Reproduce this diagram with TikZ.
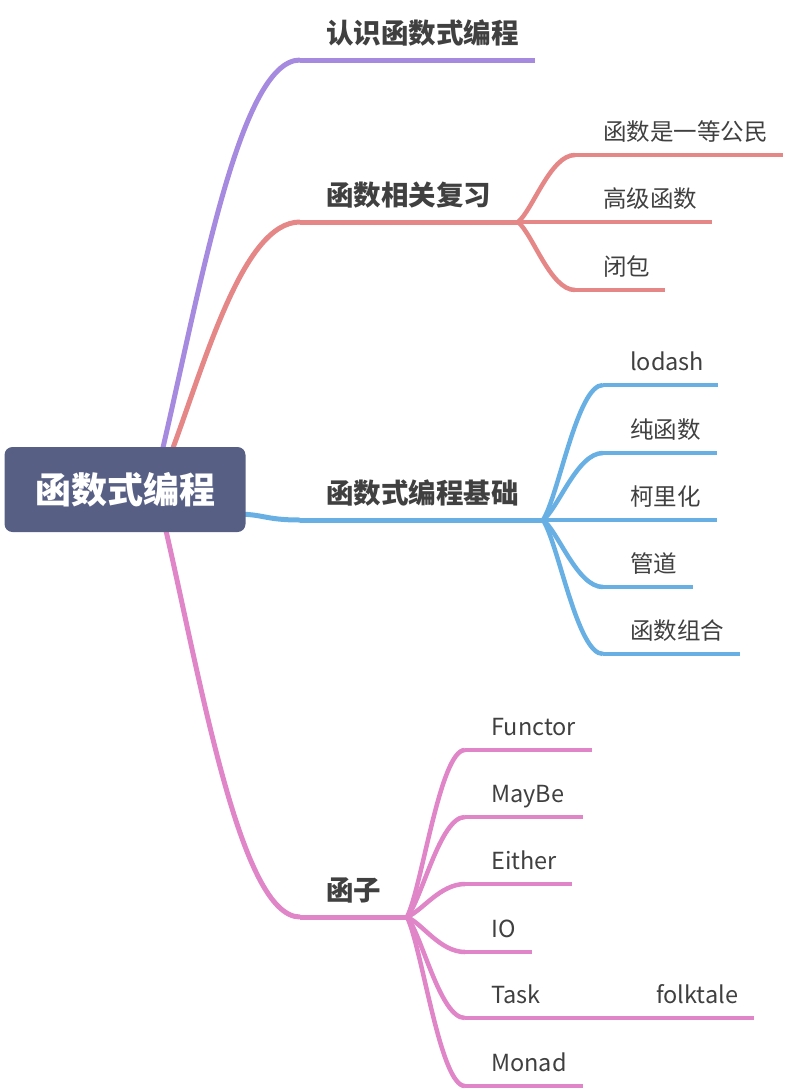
\documentclass[tikz,border=0pt]{standalone}
\usepackage{fontspec}
\setmainfont{Noto Sans CJK SC}
\usetikzlibrary{calc,backgrounds}
\definecolor{cP}{HTML}{A58AE0}
\definecolor{cR}{HTML}{E58687}
\definecolor{cB}{HTML}{68B0E4}
\definecolor{cK}{HTML}{DF85C8}
\definecolor{rootfill}{HTML}{585F85}
\definecolor{txt}{HTML}{404040}
\tikzset{
  xcurve/.style n args={3}{to path={let \p1=(\tikztostart), \p2=(\tikztotarget) in
     .. controls ({\x1+#1*(\x2-\x1)},{\y1+#2*(\y2-\y1)}) and ({\x1+#3*(\x2-\x1)},\y2) .. (\tikztotarget)}},
  mainbr/.style={line width=5pt, xcurve={0.27}{0.4}{0.56}},
  subbr/.style={line width=4.5pt, xcurve={0.26}{0.18}{0.57}},
  mainline/.style={line width=5pt},
  subline/.style={line width=4.5pt},
  rootbox/.style={fill=rootfill, rounded corners=8pt, minimum width=241pt, minimum height=85pt,
     text=white, font=\fontsize{36}{40}\selectfont\bfseries, inner sep=0pt},
  mainlabel/.style={anchor=base west, inner sep=0pt, text=txt, font=\fontsize{27.5}{30}\selectfont\bfseries},
  sublabel/.style={anchor=base west, inner sep=0pt, text=txt, font=\fontsize{23.5}{26}\selectfont},
}
\begin{document}
\begin{tikzpicture}[x=1pt,y=-1pt]
\useasboundingbox (0,0) rectangle (788,1092);
\node[rootbox] (root) at (125,489.5) {函数式编程};

% labels
\node[mainlabel] (m1) at (326,43) {认识函数式编程};
\node[mainlabel] (m2) at (326,205) {函数相关复习};
\node[mainlabel] (m3) at (326,503) {函数式编程基础};
\node[mainlabel] (m4) at (326,900) {函子};

\node[sublabel] (r1) at (603,140) {函数是一等公民};
\node[sublabel] (r2) at (603,207) {高级函数};
\node[sublabel] (r3) at (603,275) {闭包};

\node[sublabel] (b1) at (630,370) {lodash};
\node[sublabel] (b2) at (630,438) {纯函数};
\node[sublabel] (b3) at (630,505) {柯里化};
\node[sublabel] (b4) at (630,572) {管道};
\node[sublabel] (b5) at (630,639) {函数组合};

\node[sublabel] (k1) at (491,735) {Functor};
\node[sublabel] (k2) at (491,802) {MayBe};
\node[sublabel] (k3) at (491,869) {Either};
\node[sublabel] (k4) at (491,937) {IO};
\node[sublabel] (k5) at (491,1003) {Task};
\node[sublabel] (k6) at (491,1071) {Monad};
\node[sublabel] (f1) at (656,1003) {folktale};

% coordinates
\coordinate (pS) at (161,456); \coordinate (pC) at (300,60); \coordinate (pE) at (535,60);
\coordinate (rS) at (170,456); \coordinate (rC) at (300,222); \coordinate (rF) at (518,222);
\coordinate (r1C) at (575,155); \coordinate (r1E) at (783,155);
\coordinate (r2E) at (712,222);
\coordinate (r3C) at (575,290); \coordinate (r3E) at (665,290);
\coordinate (bS) at (235,514); \coordinate (bC) at (300,520); \coordinate (bF) at (543,520);
\coordinate (b1C) at (603,385); \coordinate (b1E) at (718,385);
\coordinate (b2C) at (603,453); \coordinate (b2E) at (717,453);
\coordinate (b3E) at (717,520);
\coordinate (b4C) at (603,587); \coordinate (b4E) at (693,587);
\coordinate (b5C) at (603,654); \coordinate (b5E) at (740,654);
\coordinate (kS) at (164,522); \coordinate (kC) at (300,917); \coordinate (kF) at (407,917);
\coordinate (k1C) at (465,750); \coordinate (k1E) at (592,750);
\coordinate (k2C) at (465,817); \coordinate (k2E) at (583,817);
\coordinate (k3C) at (465,884); \coordinate (k3E) at (572,884);
\coordinate (k4C) at (465,952); \coordinate (k4E) at (532,952);
\coordinate (k5C) at (465,1018); \coordinate (k5E) at (560,1018);
\coordinate (f1E) at (754,1018);
\coordinate (k6C) at (465,1086); \coordinate (k6E) at (583,1086);

\begin{scope}[on background layer]
  % purple
  \draw[cP, mainbr] (pS) to (pC);
  \draw[cP, mainline] (pC) -- (pE);
  % red
  \draw[cR, mainbr] (rS) to (rC);
  \draw[cR, mainline] (rC) -- (rF);
  \draw[cR, subbr] (rF) to (r1C);
  \draw[cR, subline] (r1C) -- (r1E);
  \draw[cR, subline] (rF) -- (r2E);
  \draw[cR, subbr] (rF) to (r3C);
  \draw[cR, subline] (r3C) -- (r3E);
  % blue
  \draw[cB, mainline, xcurve={0.45}{0}{0.45}] (bS) to (bC);
  \draw[cB, mainline] (bC) -- (bF);
  \draw[cB, subbr] (bF) to (b1C);
  \draw[cB, subline] (b1C) -- (b1E);
  \draw[cB, subbr] (bF) to (b2C);
  \draw[cB, subline] (b2C) -- (b2E);
  \draw[cB, subline] (bF) -- (b3E);
  \draw[cB, subbr] (bF) to (b4C);
  \draw[cB, subline] (b4C) -- (b4E);
  \draw[cB, subbr] (bF) to (b5C);
  \draw[cB, subline] (b5C) -- (b5E);
  % pink
  \draw[cK, mainbr] (kS) to (kC);
  \draw[cK, mainline] (kC) -- (kF);
  \draw[cK, subbr] (kF) to (k1C);
  \draw[cK, subline] (k1C) -- (k1E);
  \draw[cK, subbr] (kF) to (k2C);
  \draw[cK, subline] (k2C) -- (k2E);
  \draw[cK, subbr] (kF) to (k3C);
  \draw[cK, subline] (k3C) -- (k3E);
  \draw[cK, subbr] (kF) to (k4C);
  \draw[cK, subline] (k4C) -- (k4E);
  \draw[cK, subbr] (kF) to (k5C);
  \draw[cK, subline] (k5C) -- (k5E);
  \draw[cK, subline] (k5E) -- (f1E);
  \draw[cK, subbr] (kF) to (k6C);
  \draw[cK, subline] (k6C) -- (k6E);
\end{scope}
\end{tikzpicture}
\end{document}
